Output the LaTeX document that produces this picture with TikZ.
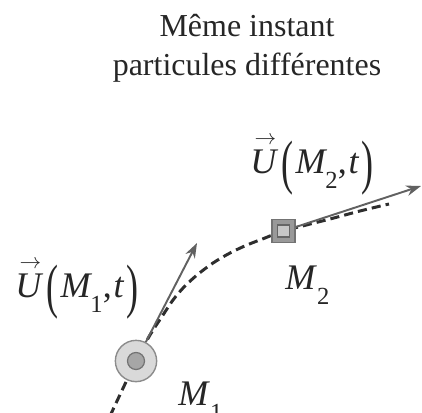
\documentclass[tikz,border=0pt]{standalone}
\usepackage{fontspec}
\setmainfont{Liberation Serif}
\usepackage{graphicx}
\usetikzlibrary{arrows.meta}
\pgfdeclarelayer{bg}
\pgfsetlayers{bg,main}
\newcommand{\lpar}{\raisebox{-0.26em}{\scalebox{1}[1.66]{(}}}
\newcommand{\rpar}{\raisebox{-0.26em}{\scalebox{1}[1.66]{)}}}
\newcommand{\idx}[1]{\raisebox{-0.42em}{\fontsize{14}{14}\selectfont #1}}
\newcommand{\vecU}{\leavevmode\rlap{\kern0.12em\raisebox{0.8em}{\resizebox{0.6em}{!}{$\rightarrow$}}}\textit{U}}
\newcommand{\velo}[1]{\vecU\kern2pt\lpar\kern1pt\textit{M}\kern-1pt\idx{#1},\kern1pt\textit{t}\kern1pt\rpar}
\tikzset{
  traj/.style={draw=black!82, line width=1.7pt, dash pattern=on 5.2pt off 2.9pt},
  velarrow/.style={draw=black!62, line width=1.1pt, -{Stealth[length=8.5pt,width=6pt]}},
  lab/.style={font=\fontsize{20.5}{24}\selectfont, anchor=base west, inner sep=0pt, text=black!85},
  titletext/.style={font=\fontsize{18.2}{22}\selectfont, anchor=base, inner sep=0pt, text=black!85},
  partout/.style={circle, minimum size=23.5pt, inner sep=0pt, fill=black!15, draw=black!45, line width=0.8pt},
  partin/.style={circle, minimum size=9.7pt, inner sep=0pt, fill=black!35, draw=black!55, line width=0.7pt},
  sqout/.style={rectangle, minimum size=13.1pt, inner sep=0pt, fill=black!40, draw=black!55, line width=0.7pt},
  sqin/.style={rectangle, minimum size=6.8pt, inner sep=0pt, fill=black!22, draw=black!60, line width=0.7pt}
}
\begin{document}
\begin{tikzpicture}[x=0.02cm,y=-0.02cm]
\useasboundingbox (0,0) rectangle (422,412);
\node[titletext] (t1) at (247,37) {Même instant};
\node[titletext] (t2) at (247,75) {particules différentes};
\node[partout] (m1) at (136,361) {};
\node[partin] (m1c) at (m1.center) {};
\node[sqout] (m2) at (283.5,231) {};
\node[sqin] (m2c) at (m2.center) {};
\coordinate (t0) at (110,416);
\coordinate (t5) at (389,204);
\coordinate (tip1) at (197,243);
\coordinate (tip2) at (421,186);
\begin{pgfonlayer}{bg}
\draw[traj] plot[smooth, tension=0.5] coordinates {(t0) (m1.center) (150,335) (163,315) (173,300) (184,287) (197,275) (213,263) (230,253) (247,245) (265,238) (m2.center) (330,219) (360,211) (t5)};
\end{pgfonlayer}
\draw[velarrow] (m1) -- (tip1);
\draw[velarrow] (m2) -- (tip2);
\node[lab] (lab1) at (15,297) {\velo{1}};
\node[lab] (lab2) at (250,173) {\velo{2}};
\node[lab] (m2lab) at (285,289) {\textit{M}\idx{2}};
\node[lab] (m1lab) at (178,405) {\textit{M}\idx{1}};
\end{tikzpicture}
\end{document}
